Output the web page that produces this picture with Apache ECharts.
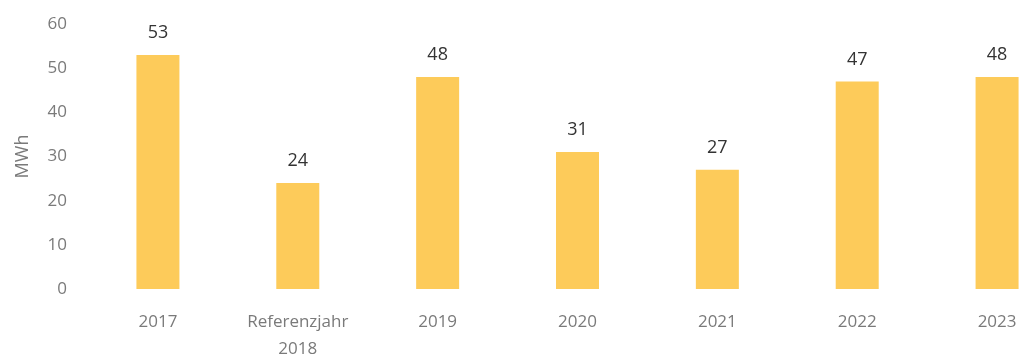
<!DOCTYPE html>
<html>
<head>
<meta charset="utf-8">
<script src="https://cdn.jsdelivr.net/npm/echarts@6/dist/echarts.min.js"></script>
<style>
  html, body { margin: 0; padding: 0; background: #fff; }
  #chart { width: 1020px; height: 356px; }
</style>
</head>
<body>
<div id="chart"></div>
<script>
var categories = ['2017', 'Referenzjahr\n2018', '2019', '2020', '2021', '2022', '2023'];
var values = [53, 24, 48, 31, 27, 47, 48];
var yTicks = [0, 10, 20, 30, 40, 50, 60];

var myChart = echarts.init(document.getElementById('chart'));
var option = {
    animation: false,
    grid: { left: 88, width: 979, top: 24, bottom: 67, outerBoundsMode: 'none', containLabel: false },
    xAxis: [{
        type: 'category',
        data: categories,
        axisLine: { show: false },
        axisTick: { show: false },
        axisLabel: {
            color: '#7a7a7a',
            fontFamily: 'Open Sans',
            fontSize: 17,
            margin: 20,
            lineHeight: 27
        }
    }],
    yAxis: [{
        type: 'value',
        min: yTicks[0],
        max: yTicks[yTicks.length - 1],
        interval: 10,
        name: 'MWh',
        nameLocation: 'middle',
        nameGap: 56,
        nameTextStyle: { color: '#7a7a7a', fontFamily: 'Open Sans', fontSize: 18 },
        splitLine: { show: false },
        axisLine: { show: false },
        axisTick: { show: false },
        axisLabel: {
            color: '#7a7a7a',
            fontFamily: 'Open Sans',
            fontSize: 17,
            margin: 21
        }
    }],
    series: [{
        type: 'bar',
        data: values,
        barWidth: 43,
        itemStyle: { color: '#fdcb5a' },
        label: {
            show: true,
            position: 'top',
            distance: 13,
            color: '#333',
            fontFamily: 'Open Sans',
            fontSize: 18
        }
    }]
};
myChart.setOption(option);
</script>
</body>
</html>
